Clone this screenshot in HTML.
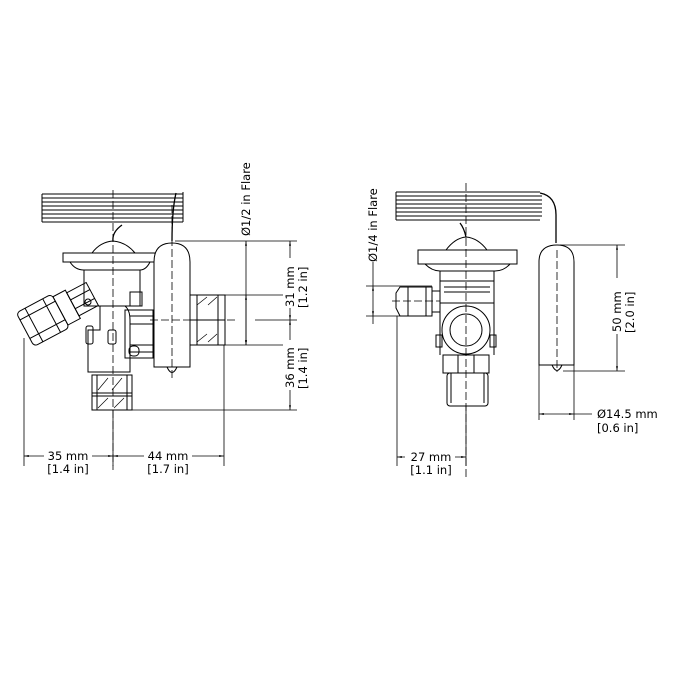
<!DOCTYPE html>
<html><head><style>body{margin:0;background:#fff}svg{display:block}text{font-family:"DejaVu Sans","Liberation Sans",sans-serif;font-size:11.5px;fill:#000}</style></head>
<body>
<svg width="680" height="680" viewBox="0 0 680 680" xmlns="http://www.w3.org/2000/svg">
<defs>
<marker id="a" viewBox="0 0 10 10" refX="10" refY="5" markerWidth="6" markerHeight="6" orient="auto-start-reverse"><path d="M0,3 L10,5 L0,7z" fill="#000"/></marker>
</defs>
<g fill="none" stroke="#000" stroke-width="1">
<!-- LEFT VALVE -->
<g stroke-width="1">
<path d="M42,194 H183 M42,198 H183 M42,202 H183 M42,206 H183 M42,210 H183 M42,214 H183 M42,218 H183 M42,222 H183"/>
<path d="M42,194 V222 M183,192 V222"/>
</g>
<path d="M113,241 Q112,232 122,225 M172,241 Q172,210 176,193" stroke-width="1.3"/>
<path d="M92,253 Q100,242 113,241 Q126,242 135,253"/>
<rect x="63" y="253" width="92" height="9"/>
<path d="M70,262 Q75,270 84,270 H140 Q146,270 150,262"/>
<rect x="84" y="270" width="56" height="36"/>
<path d="M100,306 H125 Q130,310 130,320 V372 H88 V330 H100 Z"/>
<rect x="125" y="310" width="28" height="48"/>
<path d="M130,316 H153 M130,324 H153 M130,345 H153 M130,352 H153"/>
<rect x="130" y="292" width="12" height="14"/>
<rect x="108" y="330" width="8" height="14" rx="2"/>
<rect x="86" y="326" width="7" height="18" rx="2"/>
<rect x="129" y="346" width="10" height="10" rx="4"/>
<rect x="92" y="375" width="40" height="35"/>
<path d="M92,393 H132 M92,396 H132 M97,375 V410 M127,375 V410"/>
<path d="M98,390 L108,378 M112,390 L122,378 M98,408 L108,398 M114,408 L124,398" stroke-width="0.7"/>
<g transform="rotate(-28 60 310)">
<rect x="20" y="292" width="40" height="38" rx="4"/>
<path d="M20,300 H60 M20,321 H60 M30,292 V330 M50,292 V330"/>
<rect x="60" y="295" width="14" height="32"/>
<rect x="74" y="298" width="22" height="26"/>
<path d="M74,306 H96 M74,316 H96"/>
</g>
<circle cx="88" cy="302" r="3"/>
<path d="M154,367 V262 Q154,243 172,243 Q190,243 190,262 V367 Z" fill="#fff"/>
<path d="M167,367 Q172,378 177,367"/>
<rect x="190" y="295" width="35" height="50"/>
<path d="M197,295 V345 M218,295 V345 M190,320 H225"/>
<path d="M197,305 L207,297 M208,305 L217,297 M197,342 L207,334 M208,342 L217,334" stroke-width="0.7"/>
<path d="M113,190 V470 M172,205 V380 M150,320 H235" stroke-dasharray="8,3" stroke-width="0.8"/>
<g stroke-width="0.8">
<path d="M175,241 H297 M225,295 H297 M225,345 H297 M130,410 H297 M255,320 H297"/>
<path d="M246,241 V345" marker-start="url(#a)" marker-end="url(#a)"/>
<path d="M246,295 V345" marker-start="url(#a)" marker-end="url(#a)"/>
<path d="M290,241 V320" marker-start="url(#a)" marker-end="url(#a)"/>
<path d="M290,320 V410" marker-start="url(#a)" marker-end="url(#a)"/>
<path d="M24,338 V466 M113,410 V466 M224,345 V466"/>
<path d="M24,456 H113" marker-start="url(#a)" marker-end="url(#a)"/>
<path d="M113,456 H224" marker-start="url(#a)" marker-end="url(#a)"/>
</g>

<!-- RIGHT VALVE -->
<g stroke-width="1">
<path d="M396,192 H540 M396,196 H542 M396,200 H542 M396,204 H542 M396,208 H542 M396,212 H542 M396,216 H542 M396,220 H540"/>
<path d="M396,192 V220"/>
</g>
<path d="M466,237 Q464,228 460,223 M540,193 Q556,196 556,215 V243" stroke-width="1.3"/>
<path d="M446,250 Q455,238 466,237 Q478,238 487,250"/>
<rect x="418" y="250" width="99" height="14"/>
<path d="M425,264 Q432,271 440,271 H495 Q504,271 510,264"/>
<path d="M440,271 V350 M494,271 V350"/>
<rect x="440" y="281" width="54" height="22"/>
<path d="M444,287 H490 M444,292 H490"/>
<circle cx="466" cy="330" r="24"/>
<circle cx="466" cy="330" r="16"/>
<rect x="436" y="335" width="6" height="12"/>
<rect x="490" y="335" width="6" height="12"/>
<rect x="443" y="355" width="46" height="18"/>
<path d="M458,355 V373 M474,355 V373 M440,350 V355 M494,350 V355"/>
<rect x="447" y="373" width="41" height="33" rx="3"/>
<path d="M451,373 V403 M484,373 V403"/>
<path d="M432,287 V316 H400 L396,308 V293 L400,287 Z"/>
<path d="M408,287 V316 M426,287 V316"/>
<path d="M432,291 H440 M432,312 H440"/>
<path d="M539,365 V262 Q539,245 557,245 Q574,245 574,262 V365 Z" fill="#fff"/>
<path d="M539,365 H574"/>
<path d="M552,365 Q557,376 562,365"/>
<path d="M466,183 V478 M557,250 V372 M392,301 H440" stroke-dasharray="8,3" stroke-width="0.8"/>
<g stroke-width="0.8">
<path d="M366,286 H432 M366,316 H400"/>
<path d="M373,286 V316" marker-start="url(#a)" marker-end="url(#a)"/>
<path d="M373,262 V286 M373,316 V324"/>
<path d="M560,245 H625 M563,371 H625"/>
<path d="M617,245 V371" marker-start="url(#a)" marker-end="url(#a)"/>
<path d="M539,365 V420 M574,365 V420"/>
<path d="M539,414 H574" marker-start="url(#a)" marker-end="url(#a)"/>
<path d="M574,414 H592"/>
<path d="M397,316 V466 M466,406 V466"/>
<path d="M397,457 H466" marker-start="url(#a)" marker-end="url(#a)"/>
</g>
</g>

<g>
<rect x="240" y="150" width="14" height="84" fill="#fff"/>
<text transform="translate(250,236) rotate(-90)">Ø1/2 in Flare</text>
<rect x="283" y="258" width="30" height="50" fill="#fff"/>
<text transform="translate(294,307) rotate(-90)">31 mm</text>
<text transform="translate(307,308) rotate(-90)">[1.2 in]</text>
<rect x="283" y="340" width="30" height="50" fill="#fff"/>
<text transform="translate(294,388) rotate(-90)">36 mm</text>
<text transform="translate(307,389) rotate(-90)">[1.4 in]</text>
<rect x="44" y="449" width="48" height="14" fill="#fff"/>
<text x="68" y="460" text-anchor="middle">35 mm</text>
<text x="68" y="473" text-anchor="middle">[1.4 in]</text>
<rect x="144" y="449" width="48" height="14" fill="#fff"/>
<text x="168" y="460" text-anchor="middle">44 mm</text>
<text x="168" y="473" text-anchor="middle">[1.7 in]</text>
<text transform="translate(377,262) rotate(-90)">Ø1/4 in Flare</text>
<rect x="610" y="278" width="30" height="56" fill="#fff"/>
<text transform="translate(621,332) rotate(-90)">50 mm</text>
<text transform="translate(634,333) rotate(-90)">[2.0 in]</text>
<text x="597" y="418">Ø14.5 mm</text>
<text x="597" y="432">[0.6 in]</text>
<rect x="405" y="450" width="50" height="14" fill="#fff"/>
<text x="431" y="461" text-anchor="middle">27 mm</text>
<text x="431" y="474" text-anchor="middle">[1.1 in]</text>
</g>
</svg>
</body></html>
